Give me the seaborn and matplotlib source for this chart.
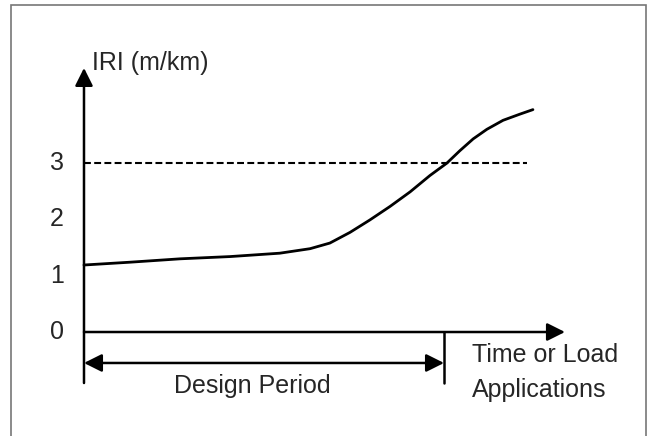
import matplotlib
matplotlib.use("Agg")
import matplotlib.pyplot as plt
from matplotlib.patches import Rectangle
import seaborn as sns
import pandas as pd

# Данные (x - время/нагрузка, конец расчётного периода = 10)
time_points = [0, 1.28, 2.67, 4.06, 5.44, 6.28, 6.83, 7.39, 7.94, 8.50, 9.06, 9.61,
               10.08, 10.44, 10.81, 11.19, 11.64, 12.11, 12.47]
iri_values = [1.19, 1.24, 1.30, 1.34, 1.40, 1.48, 1.58, 1.77, 1.99, 2.23, 2.49, 2.78,
              3.0, 3.22, 3.43, 3.60, 3.76, 3.87, 3.95]
y_ticks = [0, 1, 2, 3]
iri_limit = 3
limit_end = 12.3
design_end = 10
x_axis_end = 13.36
y_axis_top = 4.69

# Оформление
sns.set_theme(style="white")
plt.rcParams['font.family'] = ['Liberation Sans', 'DejaVu Sans']

fig = plt.figure(figsize=(6.54, 4.36), dpi=100)
ax = fig.add_axes([0, 0, 1, 1])
ax.set_xlim(-2.333, 15.833)
ax.set_ylim(-1.847, 5.897)
ax.axis('off')

# Кривая IRI
df = pd.DataFrame({'time': time_points, 'iri': iri_values})
sns.lineplot(data=df, x='time', y='iri', color='black', lw=2.0, ax=ax)

# Пороговое значение IRI
ax.plot([0, limit_end], [iri_limit, iri_limit], color='black', lw=1.5,
        linestyle=(0, (3.3, 1.6)))

# Оси со стрелками
arrow = dict(arrowstyle='-|>,head_length=0.6,head_width=0.3', mutation_scale=18,
             color='black', lw=1.8, shrinkA=0, shrinkB=0)
ax.annotate('', xy=(0, y_axis_top), xytext=(0, -0.906), arrowprops=arrow)
ax.annotate('', xy=(x_axis_end, 0), xytext=(0, 0), arrowprops=arrow)

# Расчётный период
ax.plot([design_end, design_end], [0, -0.906], color='black', lw=1.8)
ax.annotate('', xy=(design_end, -0.55), xytext=(0, -0.55),
            arrowprops=dict(arrowstyle='<|-|>,head_length=0.6,head_width=0.3',
                            mutation_scale=18, color='black', lw=1.8,
                            shrinkA=0, shrinkB=0))

# Подписи
for t in y_ticks:
    ax.text(-0.75, t, str(t), ha='center', va='center', fontsize=18)
ax.text(0.22, 4.78, 'IRI (m/km)', ha='left', va='center', fontsize=18)
ax.text(4.67, -1.083, 'Design Period', ha='center', va='baseline', fontsize=18)
ax.text(10.78, -0.533, 'Time or Load', ha='left', va='baseline', fontsize=18)
ax.text(10.78, -1.155, 'Applications', ha='left', va='baseline', fontsize=18)

# Серая рамка вокруг рисунка
fig.add_artist(Rectangle((11 / 654, -0.01), 635 / 654, 0.9985, transform=fig.transFigure,
                         fill=False, edgecolor='#777777', lw=1.2))

fig.savefig('out.png', dpi=100)
